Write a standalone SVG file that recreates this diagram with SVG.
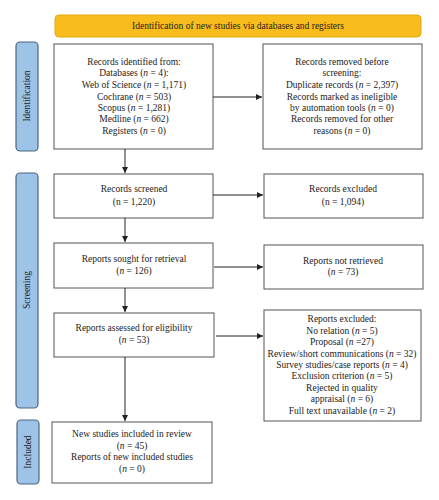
<svg xmlns="http://www.w3.org/2000/svg" width="439" height="500" viewBox="0 0 439 500">
<style>
text{font-family:"Liberation Serif","Times New Roman",serif;font-size:9.5px;fill:#222;text-anchor:middle}
.i{font-style:italic}
.box{fill:#fff;stroke:#555;stroke-width:1}
.side{fill:#9dc3e6;stroke:#4d6680;stroke-width:1.2}
.c{stroke:#222;stroke-width:1;fill:none;marker-end:url(#ah)}
</style>
<defs>
<marker id="ah" viewBox="0 0 10 10" refX="10" refY="5" markerWidth="6" markerHeight="6" markerUnits="userSpaceOnUse" orient="auto">
<path d="M0,0 L10,5 L0,10 z" fill="#222"/>
</marker>
</defs>
<rect width="439" height="500" fill="#fff"/>
<g id="header">
<rect x="55" y="15" width="366" height="22" rx="4" fill="#f8bd1c" stroke="#e3a90f" stroke-width="1"/>
<text x="238" y="29">Identification of new studies via databases and registers</text>
</g>
<g id="label-identification">
<rect class="side" x="16" y="42" width="22" height="109" rx="4"/>
<text transform="translate(30,96) rotate(-90)">Identification</text>
</g>
<g id="label-screening">
<rect class="side" x="16" y="173" width="22" height="235" rx="4"/>
<text transform="translate(30,290) rotate(-90)">Screening</text>
</g>
<g id="label-included">
<rect class="side" x="17" y="420" width="22" height="64" rx="4"/>
<text transform="translate(31,452) rotate(-90)">Included</text>
</g>
<g id="records-identified">
<rect class="box" x="54" y="44" width="159" height="105"/>
<text x="134" y="65">Records identified from:</text>
<text x="134" y="76">Databases (<tspan class="i">n</tspan> = 4):</text>
<text x="134" y="88">Web of Science (<tspan class="i">n</tspan> = 1,171)</text>
<text x="134" y="100">Cochrane (<tspan class="i">n</tspan> = 503)</text>
<text x="134" y="111">Scopus (<tspan class="i">n</tspan> = 1,281)</text>
<text x="134" y="122">Medline (<tspan class="i">n</tspan> = 662)</text>
<text x="134" y="134">Registers (<tspan class="i">n</tspan> = 0)</text>
</g>
<g id="records-removed">
<rect class="box" x="263" y="44" width="159" height="105"/>
<text x="342" y="65">Records removed before</text>
<text x="342" y="76">screening:</text>
<text x="342" y="88">Duplicate records (<tspan class="i">n</tspan> = 2,397)</text>
<text x="342" y="100">Records marked as ineligible</text>
<text x="342" y="111">by automation tools (<tspan class="i">n</tspan> = 0)</text>
<text x="342" y="122">Records removed for other</text>
<text x="342" y="134">reasons (<tspan class="i">n</tspan> = 0)</text>
</g>
<g id="records-screened">
<rect class="box" x="54" y="174" width="159" height="44"/>
<text x="134" y="192">Records screened</text>
<text x="134" y="205">(n = 1,220)</text>
</g>
<g id="records-excluded">
<rect class="box" x="264" y="174" width="159" height="44"/>
<text x="343" y="192">Records excluded</text>
<text x="343" y="205">(n = 1,094)</text>
</g>
<g id="reports-sought">
<rect class="box" x="54" y="243" width="159" height="45"/>
<text x="134" y="262">Reports sought for retrieval</text>
<text x="134" y="274">(<tspan class="i">n</tspan> = 126)</text>
</g>
<g id="reports-not-retrieved">
<rect class="box" x="264" y="245" width="159" height="44"/>
<text x="343" y="264">Reports not retrieved</text>
<text x="343" y="275">(<tspan class="i">n</tspan> = 73)</text>
</g>
<g id="reports-assessed">
<rect class="box" x="54" y="313" width="160" height="44"/>
<text x="134" y="331">Reports assessed for eligibility</text>
<text x="134" y="343">(<tspan class="i">n</tspan> = 53)</text>
</g>
<g id="reports-excluded">
<rect class="box" x="264" y="310" width="157" height="111"/>
<text x="342" y="322">Reports excluded:</text>
<text x="342" y="334">No relation (<tspan class="i">n</tspan> = 5)</text>
<text x="342" y="345">Proposal (<tspan class="i">n</tspan> =27)</text>
<text x="342" y="357">Review/short communications (<tspan class="i">n</tspan> = 32)</text>
<text x="342" y="368">Survey studies/case reports (<tspan class="i">n</tspan> = 4)</text>
<text x="342" y="379">Exclusion criterion (<tspan class="i">n</tspan> = 5)</text>
<text x="342" y="391">Rejected in quality</text>
<text x="342" y="402">appraisal (<tspan class="i">n</tspan> = 6)</text>
<text x="342" y="414">Full text unavailable (<tspan class="i">n</tspan> = 2)</text>
</g>
<g id="included-studies">
<rect class="box" x="52" y="422" width="160" height="61"/>
<text x="132" y="437">New studies included in review</text>
<text x="132" y="449">(<tspan class="i">n</tspan> = 45)</text>
<text x="132" y="460">Reports of new included studies</text>
<text x="132" y="472">(<tspan class="i">n</tspan> = 0)</text>
</g>
<g id="connectors">
<line class="c" x1="213" y1="97" x2="262" y2="97"/>
<line class="c" x1="125" y1="149" x2="125" y2="173"/>
<line class="c" x1="213" y1="195" x2="263" y2="195"/>
<line class="c" x1="125" y1="218" x2="125" y2="242"/>
<line class="c" x1="214" y1="267" x2="263" y2="267"/>
<line class="c" x1="125" y1="288" x2="125" y2="312"/>
<line class="c" x1="216" y1="336" x2="263" y2="336"/>
<line class="c" x1="125" y1="357" x2="125" y2="421"/>
</g>
</svg>
